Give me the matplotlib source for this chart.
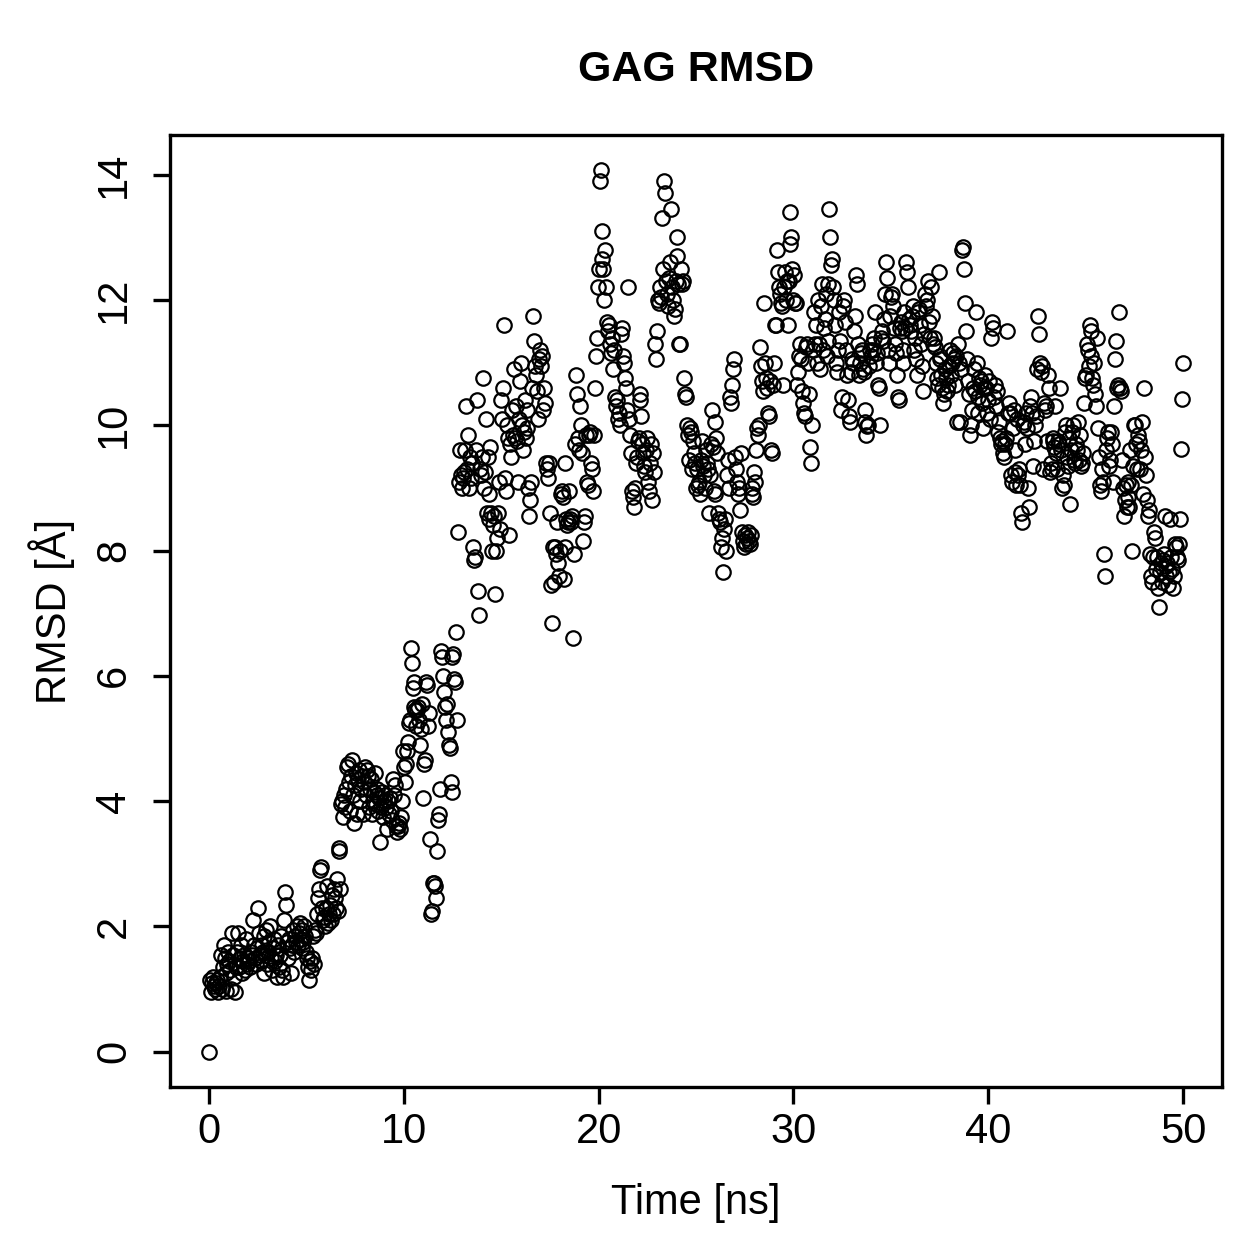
import numpy as np
import matplotlib
matplotlib.use("Agg")
import matplotlib.pyplot as plt

plt.rcParams['font.family'] = ['Liberation Sans', 'DejaVu Sans']

# RMSD values (Å), one frame every 0.05 ns
rmsd_start = [0.0]
rmsd_00_10 = [
    1.15, 0.95, 1.1, 1.2, 1.05, 1.0, 1.1, 1.15, 0.95, 1.05,
    1.2, 1.55, 1.0, 1.35, 1.7, 1.5, 0.97, 1.25, 1.4, 1.6,
    1.45, 1.3, 1.0, 1.9, 1.55, 1.2, 0.95, 1.35, 1.6, 1.9,
    1.35, 1.5, 1.7, 1.25, 1.45, 1.55, 1.3, 1.8, 1.4, 1.5,
    1.45, 1.35, 1.6, 1.55, 2.1, 1.7, 1.5, 1.4, 1.65, 2.3,
    1.9, 1.55, 1.45, 1.7, 1.6, 1.25, 1.85, 1.55, 1.95, 1.4,
    1.6, 1.75, 2.0, 1.5, 1.3, 1.65, 1.8, 1.45, 1.55, 1.2,
    1.7, 1.35, 1.55, 1.85, 1.3, 1.2, 2.1, 2.55, 2.35, 1.75,
    1.5, 1.8, 1.65, 1.25, 1.7, 1.95, 1.6, 1.85, 1.75, 2.0,
    1.7, 1.9, 2.05, 1.8, 1.65, 1.95, 1.75, 2.0, 1.85, 1.6,
    1.5, 1.35, 1.15, 1.45, 1.3, 1.5, 1.85, 1.4, 1.95, 1.9,
    2.2, 2.45, 2.6, 2.9, 2.95, 2.3, 2.1, 2.15, 2.0, 2.3,
    2.65, 2.05, 2.2, 2.35, 2.1, 2.5, 2.2, 2.6, 2.45, 2.3,
    2.75, 2.25, 3.25, 3.2, 2.6, 3.95, 4.0, 3.75, 4.1, 3.9,
    4.2, 4.55, 4.6, 4.3, 3.85, 4.4, 4.65, 4.1, 3.65, 4.25,
    4.45, 3.8, 4.35, 4.5, 4.0, 4.2, 4.4, 3.8, 4.3, 4.55,
    4.1, 4.5, 4.4, 3.9, 4.2, 4.35, 3.8, 4.0, 4.15, 4.45,
    3.95, 4.2, 4.1, 3.85, 4.05, 3.35, 3.9, 4.15, 3.75, 4.0,
    4.1, 3.9, 3.55, 4.0, 3.8, 4.05, 3.85, 3.7, 4.35, 4.1,
    4.25, 3.6, 3.5, 3.6, 3.65, 3.55, 3.75, 4.0, 4.8, 4.55,
]
rmsd_10_20 = [
    4.3, 4.6, 4.8, 4.95, 5.25, 5.3, 6.45, 6.2, 5.8, 5.5,
    5.9, 5.45, 5.2, 5.45, 5.5, 5.3, 4.9, 5.15, 5.55, 4.05,
    4.6, 4.65, 5.9, 5.85, 5.2, 5.4, 3.4, 2.2, 2.25, 2.7,
    2.7, 2.65, 2.45, 3.2, 3.7, 3.8, 4.2, 6.4, 6.3, 6.0,
    5.75, 5.5, 5.3, 5.55, 5.1, 4.9, 4.85, 4.3, 4.15, 6.3,
    6.35, 5.95, 5.9, 6.7, 5.3, 8.3, 9.1, 9.6, 9.2, 9.0,
    9.15, 9.25, 9.6, 10.3, 9.3, 9.85, 9.0, 9.5, 9.15, 9.4,
    8.05, 7.85, 7.9, 9.6, 10.4, 7.35, 6.97, 9.3, 9.2, 9.5,
    10.75, 9.0, 9.25, 10.1, 8.6, 9.5, 8.5, 8.9, 9.65, 8.6,
    8.0, 8.4, 8.55, 7.3, 8.0, 8.2, 8.6, 9.1, 8.35, 10.4,
    10.1, 10.6, 11.6, 9.15, 8.95, 10.0, 9.8, 8.25, 9.7, 9.5,
    10.25, 9.85, 10.9, 9.8, 10.3, 9.75, 9.1, 10.1, 10.7, 11.0,
    10.0, 9.6, 9.9, 10.4, 9.8, 10.25, 9.95, 9.0, 8.55, 8.8,
    9.1, 10.6, 11.75, 11.35, 10.95, 10.8, 10.55, 10.1, 11.05, 11.2,
    10.95, 11.1, 10.25, 10.6, 10.35, 9.4, 9.3, 9.15, 9.4, 8.6,
    7.45, 6.85, 8.05, 7.5, 8.05, 7.95, 8.45, 7.8, 7.6, 8.0,
    8.9, 8.95, 8.85, 7.55, 8.05, 9.4, 8.5, 8.4, 8.45, 8.95,
    8.5, 8.45, 8.55, 6.6, 7.95, 9.7, 10.8, 10.5, 9.8, 9.6,
    10.3, 10.0, 9.55, 8.15, 8.45, 8.55, 9.85, 9.1, 9.05, 9.85,
    9.9, 9.4, 9.3, 8.95, 9.85, 10.6, 11.1, 11.4, 12.2, 12.5,
]
rmsd_20_30 = [
    13.9, 14.07, 13.1, 12.66, 12.5, 12.0, 12.8, 12.2, 11.65, 11.5,
    11.6, 11.3, 11.15, 11.4, 10.9, 11.2, 10.45, 10.3, 10.4, 10.1,
    10.2, 10.0, 11.45, 11.55, 11.1, 11.0, 10.75, 10.6, 10.25, 12.2,
    10.1, 9.85, 9.55, 8.95, 8.85, 8.7, 9.0, 9.4, 9.5, 9.75,
    9.8, 10.5, 10.4, 10.15, 9.7, 9.55, 9.35, 9.25, 9.6, 9.8,
    9.1, 8.95, 9.4, 9.7, 8.8, 9.55, 9.25, 11.3, 11.05, 11.5,
    12.0, 11.95, 12.2, 12.05, 13.3, 12.5, 13.9, 13.7, 12.3, 12.1,
    11.9, 12.35, 12.6, 13.45, 12.2, 12.0, 11.75, 11.85, 12.3, 13.0,
    12.7, 12.25, 11.3, 11.3, 12.5, 12.25, 12.3, 10.75, 10.5, 10.45,
    10.0, 9.85, 9.45, 9.95, 9.9, 9.3, 9.75, 9.55, 9.4, 9.0,
    9.3, 9.05, 9.1, 8.9, 9.45, 9.75, 9.35, 9.2, 9.0, 9.6,
    9.4, 9.3, 8.6, 9.2, 9.7, 10.25, 9.65, 8.95, 8.9, 10.05,
    9.8, 9.55, 8.6, 8.5, 8.45, 8.05, 8.2, 7.65, 8.35, 8.5,
    8.0, 9.2, 9.45, 9.0, 10.45, 10.35, 10.65, 10.9, 11.05, 9.5,
    9.3, 9.1, 8.9, 9.0, 8.65, 9.55, 8.3, 8.15, 8.05, 8.25,
    8.1, 8.2, 8.3, 8.15, 8.1, 8.25, 8.9, 9.0, 8.85, 9.25,
    9.1, 9.6, 9.95, 9.85, 10.0, 11.25, 10.95, 10.7, 10.55, 11.95,
    11.0, 10.75, 10.6, 10.2, 10.15, 10.7, 9.6, 9.55, 10.65, 11.0,
    11.6, 11.6, 12.8, 12.45, 12.2, 12.1, 11.95, 11.9, 10.65, 12.2,
    12.45, 12.0, 12.3, 11.6, 12.3, 13.4, 12.9, 13.0, 12.5, 12.0,
]
rmsd_30_40 = [
    12.4, 11.95, 11.95, 10.65, 10.85, 11.1, 11.3, 11.05, 10.55, 10.35,
    10.2, 10.15, 11.25, 11.3, 11.0, 10.5, 9.65, 9.4, 10.0, 11.2,
    11.8, 11.3, 11.6, 11.0, 12.0, 11.3, 10.9, 11.9, 12.25, 11.2,
    11.55, 11.7, 12.1, 11.1, 11.35, 12.25, 13.45, 13.0, 12.55, 12.65,
    12.2, 12.0, 11.6, 11.0, 10.85, 11.2, 11.8, 11.35, 10.25, 10.45,
    11.9, 12.0, 11.65, 11.2, 10.8, 10.4, 10.15, 10.05, 10.85, 11.05,
    11.0, 11.5, 11.75, 12.4, 12.25, 11.3, 10.8, 11.0, 11.15, 11.2,
    10.9, 10.85, 10.25, 10.05, 9.85, 9.98, 10.0, 10.95, 11.2, 11.1,
    11.3, 11.2, 11.4, 11.8, 11.0, 11.15, 10.65, 10.6, 10.0, 11.4,
    11.5, 11.35, 11.7, 12.1, 12.6, 12.35, 11.2, 11.0, 11.75, 12.05,
    12.1, 11.9, 11.55, 11.3, 11.15, 10.8, 10.45, 10.4, 11.55, 11.65,
    11.5, 11.0, 11.2, 11.8, 11.55, 12.6, 12.45, 12.2, 11.7, 11.6,
    11.5, 11.75, 11.9, 11.2, 11.4, 11.05, 10.8, 11.8, 11.85, 11.6,
    11.3, 10.95, 10.55, 11.45, 12.1, 11.9, 12.0, 12.3, 11.65, 11.4,
    12.2, 11.75, 11.3, 11.4, 11.25, 11.0, 10.75, 10.65, 12.45, 11.05,
    11.1, 10.8, 10.6, 10.35, 10.5, 10.9, 10.75, 10.55, 10.65, 10.95,
    11.2, 10.8, 11.0, 11.15, 11.05, 10.65, 11.1, 10.05, 11.3, 11.0,
    10.05, 10.9, 12.8, 12.85, 12.5, 11.95, 11.5, 11.05, 10.7, 10.5,
    9.85, 10.0, 10.25, 10.6, 10.9, 10.55, 11.8, 11.0, 10.45, 10.2,
    10.75, 10.65, 10.7, 10.35, 9.95, 10.6, 10.8, 10.6, 10.2, 10.4,
]
rmsd_40_50 = [
    10.7, 10.1, 11.4, 11.65, 11.55, 10.45, 10.65, 10.3, 10.55, 9.9,
    10.05, 9.8, 9.7, 9.75, 9.55, 9.5, 9.7, 9.8, 11.5, 10.2,
    10.35, 10.2, 9.2, 9.1, 9.95, 10.25, 9.6, 9.25, 9.05, 10.1,
    9.2, 9.3, 9.05, 8.6, 8.45, 10.0, 10.05, 9.7, 10.2, 9.95,
    9.0, 8.7, 10.3, 10.45, 10.2, 9.35, 9.75, 10.0, 10.15, 10.9,
    11.75, 11.45, 11.0, 10.85, 10.95, 9.3, 10.35, 10.25, 10.3, 9.75,
    10.8, 10.6, 9.25, 9.4, 9.3, 9.75, 9.8, 9.65, 10.3, 9.55,
    9.3, 9.75, 9.7, 10.6, 9.6, 9.0, 9.2, 9.05, 9.9, 10.0,
    9.5, 9.35, 9.8, 8.75, 9.6, 9.9, 10.0, 9.45, 9.4, 9.7,
    9.6, 10.05, 9.45, 9.85, 9.35, 9.4, 9.55, 10.35, 10.75, 10.8,
    11.3, 11.2, 10.95, 11.6, 11.5, 11.1, 10.75, 10.65, 11.0, 10.5,
    10.3, 11.4, 9.95, 9.5, 9.05, 8.95, 9.3, 9.1, 7.95, 7.6,
    9.6, 9.8, 9.9, 9.35, 9.45, 9.9, 9.7, 9.1, 10.3, 11.05,
    11.35, 10.6, 10.65, 11.8, 10.6, 10.55, 9.45, 9.0, 8.55, 8.8,
    9.05, 8.7, 9.1, 8.85, 8.7, 9.6, 9.05, 8.0, 9.35, 10.0,
    10.0, 9.7, 9.3, 9.85, 9.75, 9.3, 9.6, 10.05, 8.9, 10.6,
    9.5, 9.2, 8.8, 8.55, 8.65, 7.95, 7.6, 7.5, 7.9, 8.3,
    8.2, 7.7, 7.9, 7.4, 7.1, 7.65, 7.8, 7.5, 7.85, 7.95,
    8.55, 7.75, 7.6, 7.8, 7.45, 7.65, 8.5, 7.9, 7.7, 7.4,
    7.6, 8.1, 8.05, 7.9, 7.85, 8.1, 8.5, 9.62, 10.42, 11.0,
]
frame_step_ns = 0.05
x_ticks = [0, 10, 20, 30, 40, 50]
y_ticks = [0, 2, 4, 6, 8, 10, 12, 14]

rmsd = np.array(rmsd_start + rmsd_00_10 + rmsd_10_20 + rmsd_20_30 + rmsd_30_40 + rmsd_40_50)
time_ns = np.arange(len(rmsd)) * frame_step_ns

W = H = 1259
DPI = 100
fig = plt.figure(figsize=(W / DPI, H / DPI), dpi=DPI)
ax = fig.add_axes([170 / W, 1 - 1087 / H, (1222 - 170) / W, (1087 - 135) / H])

ax.plot(time_ns, rmsd, linestyle='none', marker='o', markerfacecolor='none',
        markeredgecolor='black', markersize=10.4, markeredgewidth=1.6)

xr = time_ns.max() - time_ns.min()
yr = rmsd.max() - rmsd.min()
ax.set_xlim(time_ns.min() - 0.04 * xr, time_ns.max() + 0.04 * xr)
ax.set_ylim(rmsd.min() - 0.04 * yr, rmsd.max() + 0.04 * yr)

for s in ax.spines.values():
    s.set_linewidth(2.4)
    s.set_color('black')

ax.set_xticks(x_ticks)
ax.set_xticklabels([str(v) for v in x_ticks], fontsize=30)
ax.set_yticks(y_ticks)
ax.set_yticklabels([str(v) for v in y_ticks], fontsize=30, rotation=90, va='center')
ax.tick_params(axis='both', direction='out', length=12, width=2.4, color='black')
ax.tick_params(axis='x', pad=6)
ax.tick_params(axis='y', pad=14)

fig.text(696 / W, 1 - 1203 / H, 'Time [ns]', ha='center', va='center', fontsize=30)
fig.text(52 / W, 1 - 611 / H, 'RMSD [Å]', ha='center', va='center', fontsize=30, rotation=90)
fig.text(696 / W, 1 - 70 / H, 'GAG RMSD', ha='center', va='center', fontsize=31, fontweight='bold')

fig.savefig('out.png', dpi=DPI)
